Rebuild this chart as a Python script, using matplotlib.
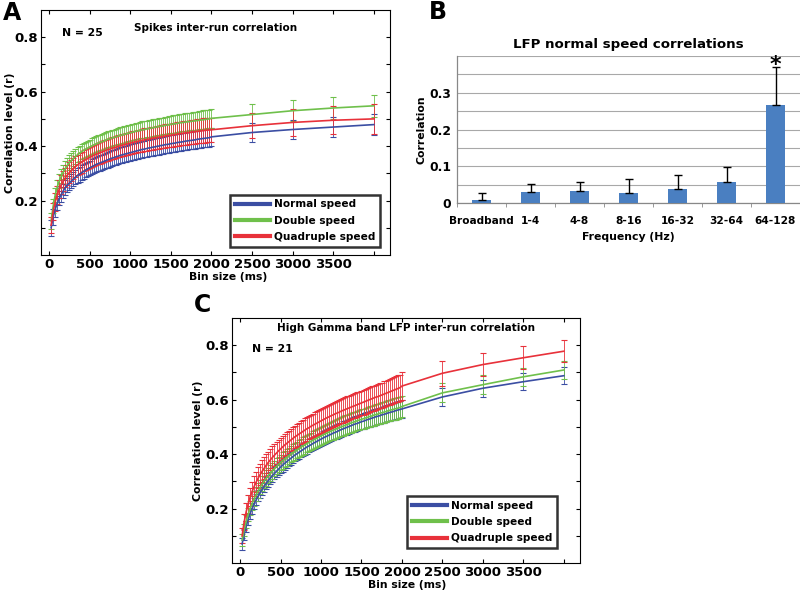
import matplotlib
matplotlib.use("Agg")
import matplotlib.pyplot as plt
from matplotlib.lines import Line2D

plt.rcParams['font.family'] = ['DejaVu Sans']
plt.rcParams['font.weight'] = 'bold'

# ---------------- data ----------------
bins = list(range(25, 2001, 25)) + [2500, 3000, 3500, 4000]
series_labels = ["Normal speed", "Double speed", "Quadruple speed"]

# Panel A: spikes inter-run correlation (N = 25)
a_normal = [0.100, 0.140, 0.168, 0.190, 0.208, 0.222, 0.236, 0.248, 0.257, 0.265,
            0.272, 0.280, 0.286, 0.292, 0.297, 0.302, 0.307, 0.312, 0.316, 0.320,
            0.324, 0.328, 0.332, 0.335, 0.338, 0.341, 0.344, 0.347, 0.350, 0.353,
            0.356, 0.358, 0.361, 0.363, 0.366, 0.368, 0.370, 0.372, 0.374, 0.376,
            0.378, 0.380, 0.382, 0.384, 0.386, 0.388, 0.389, 0.391, 0.393, 0.394,
            0.396, 0.397, 0.399, 0.400, 0.402, 0.403, 0.405, 0.406, 0.407, 0.409,
            0.410, 0.411, 0.413, 0.414, 0.415, 0.416, 0.418, 0.419, 0.420, 0.421,
            0.422, 0.423, 0.425, 0.426, 0.427, 0.428, 0.429, 0.430, 0.431, 0.434,
            0.450, 0.461, 0.470, 0.479]
a_double = [0.125, 0.180, 0.220, 0.250, 0.272, 0.290, 0.305, 0.318, 0.329, 0.339,
            0.347, 0.355, 0.362, 0.368, 0.374, 0.379, 0.384, 0.388, 0.392, 0.396,
            0.400, 0.404, 0.407, 0.410, 0.413, 0.416, 0.419, 0.422, 0.425, 0.427,
            0.430, 0.432, 0.434, 0.437, 0.439, 0.441, 0.443, 0.445, 0.447, 0.449,
            0.451, 0.453, 0.455, 0.456, 0.458, 0.460, 0.461, 0.463, 0.464, 0.466,
            0.467, 0.469, 0.470, 0.472, 0.473, 0.474, 0.476, 0.477, 0.478, 0.480,
            0.481, 0.482, 0.483, 0.485, 0.486, 0.487, 0.488, 0.489, 0.490, 0.491,
            0.492, 0.493, 0.494, 0.495, 0.496, 0.497, 0.498, 0.499, 0.500, 0.502,
            0.516, 0.530, 0.540, 0.548]
a_quad = [0.110, 0.160, 0.195, 0.222, 0.242, 0.258, 0.272, 0.284, 0.294, 0.303,
          0.311, 0.318, 0.325, 0.331, 0.336, 0.341, 0.346, 0.350, 0.354, 0.358,
          0.362, 0.366, 0.369, 0.372, 0.375, 0.378, 0.381, 0.384, 0.387, 0.389,
          0.392, 0.394, 0.396, 0.399, 0.401, 0.403, 0.405, 0.407, 0.409, 0.411,
          0.413, 0.415, 0.416, 0.418, 0.420, 0.421, 0.423, 0.424, 0.426, 0.427,
          0.429, 0.430, 0.431, 0.433, 0.434, 0.435, 0.437, 0.438, 0.439, 0.440,
          0.441, 0.442, 0.444, 0.445, 0.446, 0.447, 0.448, 0.449, 0.450, 0.451,
          0.452, 0.453, 0.454, 0.455, 0.456, 0.457, 0.458, 0.459, 0.459, 0.460,
          0.475, 0.487, 0.495, 0.500]
a_normal_sem = [0.030, 0.028, 0.027, 0.026, 0.026, 0.026, 0.026, 0.026, 0.026, 0.026,
                0.026, 0.026, 0.027, 0.027, 0.027, 0.027, 0.027, 0.027, 0.027, 0.027,
                0.028, 0.028, 0.028, 0.028, 0.028, 0.028, 0.028, 0.028, 0.029, 0.029,
                0.029, 0.029, 0.029, 0.029, 0.029, 0.029, 0.029, 0.030, 0.030, 0.030,
                0.030, 0.030, 0.030, 0.030, 0.030, 0.030, 0.030, 0.031, 0.031, 0.031,
                0.031, 0.031, 0.031, 0.031, 0.031, 0.031, 0.031, 0.031, 0.032, 0.032,
                0.032, 0.032, 0.032, 0.032, 0.032, 0.032, 0.032, 0.032, 0.032, 0.032,
                0.032, 0.032, 0.032, 0.033, 0.033, 0.033, 0.033, 0.033, 0.033, 0.033,
                0.034, 0.035, 0.037, 0.040]
a_double_sem = [0.028, 0.027, 0.027, 0.027, 0.027, 0.027, 0.027, 0.027, 0.028, 0.028,
                0.028, 0.028, 0.028, 0.028, 0.028, 0.028, 0.028, 0.028, 0.028, 0.028,
                0.029, 0.029, 0.029, 0.029, 0.029, 0.029, 0.029, 0.029, 0.029, 0.029,
                0.029, 0.029, 0.030, 0.030, 0.030, 0.030, 0.030, 0.030, 0.030, 0.030,
                0.030, 0.030, 0.030, 0.030, 0.030, 0.031, 0.031, 0.031, 0.031, 0.031,
                0.031, 0.031, 0.031, 0.031, 0.031, 0.031, 0.031, 0.031, 0.031, 0.031,
                0.032, 0.032, 0.032, 0.032, 0.032, 0.032, 0.032, 0.032, 0.032, 0.032,
                0.033, 0.033, 0.033, 0.033, 0.033, 0.034, 0.034, 0.034, 0.034, 0.034,
                0.038, 0.039, 0.040, 0.040]
a_quad_sem = [0.028, 0.030, 0.032, 0.033, 0.034, 0.035, 0.036, 0.036, 0.037, 0.037,
              0.038, 0.038, 0.038, 0.038, 0.038, 0.039, 0.039, 0.039, 0.039, 0.039,
              0.039, 0.039, 0.039, 0.039, 0.039, 0.040, 0.040, 0.040, 0.040, 0.040,
              0.040, 0.040, 0.040, 0.040, 0.040, 0.041, 0.041, 0.041, 0.041, 0.041,
              0.041, 0.041, 0.041, 0.041, 0.041, 0.042, 0.042, 0.042, 0.042, 0.042,
              0.042, 0.042, 0.042, 0.042, 0.042, 0.043, 0.043, 0.043, 0.043, 0.043,
              0.043, 0.043, 0.043, 0.043, 0.043, 0.044, 0.044, 0.044, 0.044, 0.044,
              0.044, 0.044, 0.044, 0.044, 0.044, 0.045, 0.045, 0.045, 0.045, 0.045,
              0.046, 0.050, 0.052, 0.055]

# Panel C: high gamma band LFP inter-run correlation (N = 21)
c_normal = [0.070, 0.105, 0.135, 0.160, 0.182, 0.201, 0.218, 0.233, 0.247, 0.260,
            0.272, 0.283, 0.293, 0.303, 0.312, 0.321, 0.329, 0.337, 0.345, 0.352,
            0.359, 0.366, 0.372, 0.378, 0.384, 0.390, 0.396, 0.401, 0.406, 0.411,
            0.416, 0.421, 0.426, 0.430, 0.434, 0.439, 0.443, 0.447, 0.451, 0.455,
            0.459, 0.463, 0.466, 0.470, 0.473, 0.477, 0.480, 0.483, 0.487, 0.490,
            0.493, 0.496, 0.499, 0.502, 0.505, 0.508, 0.511, 0.513, 0.516, 0.519,
            0.521, 0.524, 0.527, 0.529, 0.532, 0.534, 0.537, 0.539, 0.541, 0.544,
            0.546, 0.548, 0.551, 0.553, 0.555, 0.557, 0.560, 0.562, 0.564, 0.566,
            0.610, 0.642, 0.666, 0.688]
c_double = [0.085, 0.122, 0.153, 0.179, 0.201, 0.220, 0.237, 0.252, 0.266, 0.279,
            0.291, 0.302, 0.312, 0.322, 0.331, 0.339, 0.347, 0.355, 0.362, 0.369,
            0.376, 0.382, 0.388, 0.394, 0.400, 0.405, 0.410, 0.415, 0.420, 0.425,
            0.430, 0.434, 0.439, 0.443, 0.447, 0.451, 0.455, 0.459, 0.463, 0.467,
            0.471, 0.474, 0.478, 0.481, 0.485, 0.488, 0.491, 0.494, 0.497, 0.500,
            0.503, 0.506, 0.509, 0.512, 0.515, 0.517, 0.520, 0.523, 0.525, 0.528,
            0.530, 0.533, 0.535, 0.538, 0.540, 0.543, 0.545, 0.547, 0.550, 0.552,
            0.554, 0.556, 0.559, 0.561, 0.563, 0.565, 0.567, 0.569, 0.571, 0.575,
            0.625, 0.655, 0.684, 0.709]
c_quad = [0.100, 0.150, 0.188, 0.218, 0.243, 0.264, 0.282, 0.298, 0.313, 0.326,
          0.338, 0.349, 0.360, 0.370, 0.379, 0.388, 0.396, 0.404, 0.412, 0.419,
          0.426, 0.433, 0.439, 0.445, 0.451, 0.457, 0.463, 0.468, 0.473, 0.478,
          0.483, 0.488, 0.493, 0.497, 0.502, 0.506, 0.510, 0.514, 0.518, 0.522,
          0.526, 0.530, 0.534, 0.537, 0.541, 0.544, 0.548, 0.551, 0.554, 0.558,
          0.561, 0.564, 0.567, 0.570, 0.573, 0.576, 0.579, 0.582, 0.585, 0.588,
          0.591, 0.594, 0.597, 0.600, 0.603, 0.606, 0.609, 0.611, 0.614, 0.617,
          0.620, 0.623, 0.626, 0.629, 0.632, 0.635, 0.638, 0.641, 0.644, 0.650,
          0.697, 0.729, 0.754, 0.778]
c_normal_sem = [0.022, 0.020, 0.020, 0.020, 0.020, 0.020, 0.021, 0.021, 0.021, 0.021,
                0.022, 0.022, 0.022, 0.022, 0.022, 0.022, 0.022, 0.022, 0.022, 0.022,
                0.023, 0.023, 0.023, 0.023, 0.023, 0.023, 0.023, 0.023, 0.023, 0.023,
                0.024, 0.024, 0.024, 0.024, 0.024, 0.024, 0.024, 0.024, 0.024, 0.024,
                0.025, 0.025, 0.025, 0.025, 0.025, 0.026, 0.026, 0.026, 0.026, 0.026,
                0.027, 0.027, 0.027, 0.027, 0.027, 0.028, 0.028, 0.028, 0.028, 0.028,
                0.029, 0.029, 0.029, 0.029, 0.029, 0.030, 0.030, 0.030, 0.030, 0.030,
                0.031, 0.031, 0.031, 0.031, 0.031, 0.032, 0.032, 0.032, 0.032, 0.032,
                0.033, 0.032, 0.031, 0.031]
c_double_sem = [0.022, 0.022, 0.023, 0.024, 0.025, 0.025, 0.026, 0.026, 0.027, 0.027,
                0.028, 0.028, 0.028, 0.028, 0.028, 0.029, 0.029, 0.029, 0.029, 0.029,
                0.030, 0.030, 0.030, 0.030, 0.030, 0.031, 0.031, 0.031, 0.031, 0.031,
                0.032, 0.032, 0.032, 0.032, 0.032, 0.033, 0.033, 0.033, 0.033, 0.033,
                0.034, 0.034, 0.034, 0.034, 0.034, 0.035, 0.035, 0.035, 0.035, 0.035,
                0.036, 0.036, 0.036, 0.036, 0.036, 0.036, 0.036, 0.036, 0.036, 0.036,
                0.037, 0.037, 0.037, 0.037, 0.037, 0.038, 0.038, 0.038, 0.038, 0.038,
                0.039, 0.039, 0.039, 0.039, 0.039, 0.040, 0.040, 0.040, 0.040, 0.040,
                0.035, 0.034, 0.034, 0.034]
c_quad_sem = [0.028, 0.030, 0.032, 0.033, 0.034, 0.035, 0.036, 0.037, 0.038, 0.038,
              0.039, 0.039, 0.039, 0.039, 0.039, 0.040, 0.040, 0.040, 0.040, 0.040,
              0.041, 0.041, 0.041, 0.041, 0.041, 0.042, 0.042, 0.042, 0.042, 0.042,
              0.043, 0.043, 0.043, 0.043, 0.043, 0.043, 0.043, 0.043, 0.043, 0.043,
              0.044, 0.044, 0.044, 0.044, 0.044, 0.044, 0.044, 0.044, 0.044, 0.044,
              0.045, 0.045, 0.045, 0.045, 0.045, 0.045, 0.045, 0.045, 0.045, 0.045,
              0.046, 0.046, 0.046, 0.046, 0.046, 0.046, 0.046, 0.046, 0.046, 0.046,
              0.047, 0.047, 0.047, 0.047, 0.047, 0.048, 0.048, 0.048, 0.048, 0.050,
              0.045, 0.043, 0.042, 0.040]

# Panel B: LFP normal speed correlations
b_categories = ["Broadband", "1-4", "4-8", "8-16", "16-32", "32-64", "64-128"]
b_values = [0.008, 0.030, 0.032, 0.028, 0.038, 0.056, 0.268]
b_errors = [0.019, 0.021, 0.024, 0.037, 0.037, 0.041, 0.102]
b_significant = [False, False, False, False, False, False, True]

# ---------------- styling ----------------
colors = ["#3b4ea3", "#6fc04b", "#e8313a"]
W, H = 800, 592
fig = plt.figure(figsize=(W / 100, H / 100), dpi=100)


def ax_rect(l, t, r, b):
    return [l / W, 1 - b / H, (r - l) / W, (b - t) / H]


def curve_panel(ax, series, sems, title, ntext, ncoord, titley, leg_anchor):
    for ys, es, c in zip(series, sems, colors):
        ax.errorbar(bins, ys, yerr=es, color=c, ecolor=c, lw=1.2,
                    elinewidth=0.6, capsize=2.3, capthick=0.8, zorder=3)
    ax.set_xlim(-100, 4200)
    ax.set_ylim(0, 0.9)
    ax.set_xticks(range(0, 4001, 500))
    ax.set_xticklabels([str(v) for v in range(0, 4000, 500)] + [""])
    yt = [0.1, 0.2, 0.3, 0.4, 0.5, 0.6, 0.7, 0.8]
    ax.set_yticks(yt)
    ax.set_yticklabels(["", "0.2", "", "0.4", "", "0.6", "", "0.8"])
    ax.tick_params(direction="in", top=True, right=True, length=3, width=0.8,
                   labelsize=9.5, pad=2.5)
    for lab in ax.get_xticklabels() + ax.get_yticklabels():
        lab.set_fontweight("bold")
    for s in ax.spines.values():
        s.set_linewidth(0.8)
    ax.set_xlabel("Bin size (ms)", fontsize=7.8, fontweight="bold")
    ax.set_ylabel("Correlation level (r)", fontsize=7.8, fontweight="bold")
    ax.text(0.5, titley, title, transform=ax.transAxes, ha="center", va="center",
            fontsize=7.5, fontweight="bold")
    ax.text(ncoord[0], ncoord[1], ntext, transform=ax.transAxes, ha="left",
            va="center", fontsize=7.8, fontweight="bold")
    handles = [Line2D([0], [0], color=c, lw=3) for c in colors]
    leg = ax.legend(handles, series_labels, loc="lower right",
                    bbox_to_anchor=leg_anchor, frameon=True, fancybox=False,
                    edgecolor="black", handlelength=3.3, handletextpad=0.4,
                    borderpad=0.45, labelspacing=0.6, borderaxespad=0,
                    prop={"weight": "bold", "size": 7.6})
    leg.get_frame().set_linewidth(1.8)
    leg.set_zorder(5)


# Panel A
axA = fig.add_axes(ax_rect(41, 10, 390, 255))
curve_panel(axA, [a_normal, a_double, a_quad], [a_normal_sem, a_double_sem, a_quad_sem],
            "Spikes inter-run correlation", "N = 25", (0.06, 0.906), 0.927,
            (0.971, 0.033))
axA.xaxis.set_label_coords(0.535, -0.07)
axA.yaxis.set_label_coords(-0.075, 0.5)

# Panel C
axC = fig.add_axes(ax_rect(232, 318, 580, 563))
curve_panel(axC, [c_normal, c_double, c_quad], [c_normal_sem, c_double_sem, c_quad_sem],
            "High Gamma band LFP inter-run correlation", "N = 21", (0.057, 0.873),
            0.959, (0.934, 0.061))
axC.xaxis.set_label_coords(0.503, -0.07)
axC.yaxis.set_label_coords(-0.083, 0.5)

# Panel B
axB = fig.add_axes(ax_rect(457, 56, 800, 203))
xs = list(range(len(b_categories)))
axB.bar(xs, b_values, width=0.4, color="#4a7fc1", zorder=3,
        yerr=[[0] * len(b_errors), b_errors], ecolor="black",
        error_kw=dict(elinewidth=1.0, capsize=3, capthick=1.0), clip_on=False)
for x, v, e, sig in zip(xs, b_values, b_errors, b_significant):
    if sig:
        axB.text(x, v + e + 0.006, "*", ha="center", va="center", fontsize=16,
                 fontweight="bold", zorder=4)
axB.set_xlim(-0.5, 6.5)
axB.set_ylim(0, 0.4)
axB.set_yticks([0, 0.05, 0.1, 0.15, 0.2, 0.25, 0.3, 0.35, 0.4])
axB.set_yticklabels(["0", "", "0.1", "", "0.2", "", "0.3", "", ""])
axB.grid(axis="y", color="#a8a8a8", lw=0.8, zorder=0)
axB.set_axisbelow(True)
axB.set_xticks(xs)
axB.set_xticklabels(b_categories)
axB.set_xticks([i + 0.5 for i in range(-1, 7)], minor=True)
axB.tick_params(axis="x", which="major", length=0, labelsize=7.6, pad=9)
axB.tick_params(axis="x", which="minor", length=3, color="#888888", direction="out")
axB.tick_params(axis="y", length=0, labelsize=8.8, pad=4)
for lab in axB.get_xticklabels() + axB.get_yticklabels():
    lab.set_fontweight("bold")
for side in ["top", "right"]:
    axB.spines[side].set_visible(False)
for side in ["left", "bottom"]:
    axB.spines[side].set_color("#888888")
    axB.spines[side].set_linewidth(0.9)
axB.set_xlabel("Frequency (Hz)", fontsize=7.8, fontweight="bold")
axB.xaxis.set_label_coords(0.5, -0.2)
axB.set_ylabel("Correlation", fontsize=7.8, fontweight="bold")
axB.yaxis.set_label_coords(-0.09, 0.5)
axB.set_title("LFP normal speed correlations", fontsize=9.6, fontweight="bold", pad=6)

# Panel letters
fig.text(3 / W, 1 - 13 / H, "A", fontsize=17, fontweight="bold", va="center", ha="left")
fig.text(429 / W, 1 - 12 / H, "B", fontsize=17, fontweight="bold", va="center", ha="left")
fig.text(194 / W, 1 - 305 / H, "C", fontsize=17, fontweight="bold", va="center", ha="left")

fig.savefig("out.png", dpi=100)
